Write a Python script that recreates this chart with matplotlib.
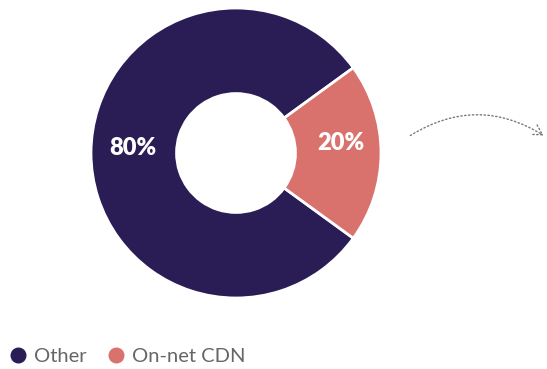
import matplotlib.pyplot as plt
from matplotlib.lines import Line2D
from matplotlib.patches import FancyArrowPatch

labels = ["Other", "On-net CDN"]
shares = [80, 20]
colors = ["#2a1d55", "#d9726d"]

plt.rcParams['font.family'] = ['Lato', 'DejaVu Sans']

fig = plt.figure(figsize=(5.47, 3.69), dpi=100)

# donut axes, placed to match the reference
ax = fig.add_axes([91 / 547, 71 / 369, 290 / 547, 290 / 369])

wedges, texts, autotexts = ax.pie(
    shares,
    colors=colors,
    startangle=36,
    counterclock=True,
    radius=1,
    autopct="%d%%",
    pctdistance=0.71,
    wedgeprops=dict(width=0.59, edgecolor="white", linewidth=2),
    textprops=dict(color="white", fontsize=17, fontweight="heavy"),
)
ax.set_xlim(-1.0, 1.0)
ax.set_ylim(-1.0, 1.0)

# labels sit a little above the ring middle in the reference
autotexts[0].set_position((-0.71, 0.035))
autotexts[1].set_position((0.72, 0.07))

# dotted curved arrow on the right
arrow = FancyArrowPatch(
    (408 / 547, 1 - 137 / 369),
    (546 / 547, 1 - 137 / 369),
    transform=fig.transFigure,
    connectionstyle="arc3,rad=-0.32",
    arrowstyle="->,head_length=7,head_width=4",
    linestyle=(0, (1, 1.8)),
    color="#777777",
    linewidth=1,
)
fig.patches.append(arrow)

# legend
handles = [
    Line2D([], [], marker="o", linestyle="", markersize=10.5,
           markerfacecolor=c, markeredgecolor=c)
    for c in colors
]
fig.legend(
    handles, labels,
    loc="center left",
    bbox_to_anchor=(8 / 547, 1 - 356 / 369),
    ncol=2,
    frameon=False,
    fontsize=14.5,
    labelcolor="#666666",
    handlelength=1.0,
    handletextpad=0.3,
    columnspacing=0.95,
    borderaxespad=0,
    borderpad=0,
)

plt.savefig("out.png", dpi=100)
